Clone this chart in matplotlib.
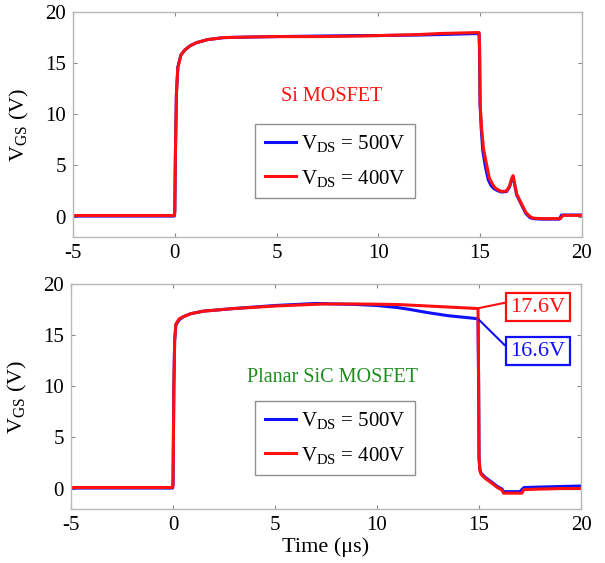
import matplotlib
matplotlib.use('Agg')
import matplotlib.pyplot as plt
from matplotlib.lines import Line2D

plt.rcParams['font.family'] = ['Liberation Serif', 'DejaVu Serif']
plt.rcParams['mathtext.fontset'] = 'custom'
plt.rcParams['mathtext.rm'] = 'Liberation Serif'
plt.rcParams['mathtext.it'] = 'Liberation Serif:italic'
plt.rcParams['axes.unicode_minus'] = False

# Si MOSFET (top)
si_t_400 = [-5, -3, -1, -0.02, 0.0, 0.03, 0.08, 0.15, 0.3, 0.5, 0.75, 1.06, 1.6, 2.4, 3.5, 5, 7, 9,
            10, 12, 13, 14, 14.95, 14.98, 15.0, 15.08, 15.17, 15.3, 15.45, 15.6, 15.74, 15.9, 16.06,
            16.3, 16.45, 16.55, 16.62, 16.8, 17.0, 17.25, 17.45, 17.6, 18.0, 18.5, 18.95, 19.07, 19.5, 20]
si_v_400 = [0.1, 0.1, 0.1, 0.1, 0.5, 6.0, 12.0, 14.6, 15.8, 16.3, 16.7, 17.0, 17.3, 17.5, 17.55, 17.6, 17.6, 17.65,
            17.7, 17.8, 17.9, 17.95, 18.0, 16.5, 11.0, 8.5, 6.6, 5.3, 3.8, 3.2, 2.8, 2.6, 2.45,
            2.5, 3.0, 3.7, 4.0, 2.2, 1.4, 0.4, 0.0, -0.15, -0.2, -0.2, -0.2, 0.12, 0.12, 0.12]

si_t_500 = [-5, -3, -1, -0.02, 0.0, 0.03, 0.08, 0.15, 0.3, 0.5, 0.75, 1.06, 1.6, 2.4, 3.5, 5, 7, 9,
            10, 12, 13, 14, 14.95, 14.97, 15.0, 15.06, 15.13, 15.25, 15.4, 15.55, 15.7, 15.9, 16.06,
            16.3, 16.45, 16.55, 16.62, 16.8, 17.0, 17.25, 17.45, 17.6, 18.0, 18.5, 18.9, 19.0, 19.5, 20]
si_v_500 = [0.05, 0.05, 0.05, 0.05, 0.5, 6.0, 12.0, 14.6, 15.8, 16.3, 16.7, 17.0, 17.3, 17.5, 17.55, 17.6, 17.65, 17.7,
            17.7, 17.75, 17.8, 17.85, 17.9, 16.5, 11.0, 8.5, 6.5, 5.0, 3.6, 3.0, 2.7, 2.5, 2.4,
            2.45, 2.9, 3.6, 3.9, 2.1, 1.3, 0.3, -0.1, -0.2, -0.25, -0.25, -0.25, 0.15, 0.15, 0.15]

# Planar SiC MOSFET (bottom)
sic_t_400 = [-5, -3, -1, -0.02, 0.0, 0.04, 0.08, 0.14, 0.3, 0.5, 0.87, 1.5, 2.96, 5, 7.35, 9, 11, 12,
             13, 14, 14.95, 14.98, 15.0, 15.04, 15.1, 15.3, 15.64, 15.9, 16.13, 16.2, 17.1, 17.2, 18.0, 19.0, 20]
sic_v_400 = [0.1, 0.1, 0.1, 0.1, 0.5, 10.0, 14.5, 16.1, 16.6, 16.8, 17.1, 17.35, 17.6, 17.85, 18.05, 18.05, 18.0, 17.9,
             17.8, 17.7, 17.6, 10.0, 3.0, 1.8, 1.4, 1.0, 0.5, 0.1, -0.15, -0.45, -0.45, -0.1, -0.05, 0.0, 0.0]

sic_t_500 = [-5, -3, -1, -0.02, 0.0, 0.04, 0.08, 0.14, 0.3, 0.5, 0.87, 1.5, 2.96, 5, 7.0, 9, 10, 11,
             11.5, 12.5, 13.5, 14.5, 14.95, 14.98, 15.0, 15.04, 15.1, 15.3, 15.64, 15.9, 16.13, 16.2, 17.0, 17.2, 18.0, 19.0, 20]
sic_v_500 = [0.05, 0.05, 0.05, 0.05, 0.5, 10.0, 14.5, 16.0, 16.5, 16.8, 17.1, 17.35, 17.6, 17.9, 18.1, 18.0, 17.9, 17.7,
             17.55, 17.2, 16.9, 16.7, 16.6, 10.0, 3.0, 1.9, 1.5, 1.1, 0.6, 0.2, -0.05, -0.3, -0.3, 0.1, 0.15, 0.2, 0.25]

xticks = [-5, 0, 5, 10, 15, 20]
yticks = [0, 5, 10, 15, 20]

BLUE = '#1010ff'
RED = '#ff1010'


def style_axes(ax):
    ax.set_xlim(-5, 20)
    ax.set_ylim(-2, 20)
    ax.set_xticks(xticks)
    ax.set_yticks(yticks)
    ax.tick_params(direction='in', length=3, width=0.8, color='#888888', labelsize=15,
                   top=True, right=True, pad=5)
    for s in ax.spines.values():
        s.set_color('#b8b8b8')
        s.set_linewidth(1.0)
    ax.set_ylabel(r'V$_{\mathregular{GS}}$ (V)', fontsize=16, labelpad=10)


def add_legend(ax, x0, y0):
    handles = [Line2D([], [], color=BLUE, lw=2.2), Line2D([], [], color=RED, lw=2.2)]
    labels = [r'V$_{\mathregular{DS}}$ = 500V', r'V$_{\mathregular{DS}}$ = 400V']
    leg = ax.legend(handles, labels, loc='lower left', bbox_to_anchor=(x0, y0), borderaxespad=0,
                    fontsize=15, handlelength=1.5, handletextpad=0.25, labelspacing=0.65,
                    fancybox=False, framealpha=1, edgecolor='#909090', borderpad=0.45)
    leg.get_frame().set_linewidth(1.0)


fig = plt.figure(figsize=(6.05, 5.63), dpi=100)
ax1 = fig.add_axes([0.1207, 0.579, 0.841, 0.3996])
ax2 = fig.add_axes([0.1174, 0.0959, 0.843, 0.3996])

ax1.plot(si_t_500, si_v_500, color=BLUE, lw=2.2)
ax1.plot(si_t_400, si_v_400, color=RED, lw=2.2)
style_axes(ax1)
ax1.text(7.7, 11.7, 'Si MOSFET', color=RED, fontsize=14.5, ha='center', va='center')
add_legend(ax1, 0.358, 0.173)

ax2.plot(sic_t_500, sic_v_500, color=BLUE, lw=2.2)
ax2.plot(sic_t_400, sic_v_400, color=RED, lw=2.2)
style_axes(ax2)
ax2.text(7.8, 10.9, 'Planar SiC MOSFET', color='#1e8c1e', fontsize=14.5, ha='center', va='center')
add_legend(ax2, 0.361, 0.151)
ax2.set_xlabel('Time (\u03bcs)', fontsize=16, labelpad=2)

ax2.annotate('17.6V', xy=(15, 17.65), xytext=(17.87, 17.75), color=RED, fontsize=16,
             ha='center', va='center',
             bbox=dict(boxstyle='square,pad=0.2', fc='white', ec=RED, lw=1.6),
             arrowprops=dict(arrowstyle='-', color=RED, lw=1.5, relpos=(0, 0.78), shrinkA=0, shrinkB=0))
ax2.annotate('16.6V', xy=(15, 16.5), xytext=(17.87, 13.45), color=BLUE, fontsize=16,
             ha='center', va='center',
             bbox=dict(boxstyle='square,pad=0.2', fc='white', ec=BLUE, lw=1.6),
             arrowprops=dict(arrowstyle='-', color=BLUE, lw=1.5, relpos=(0, 0.53), shrinkA=0, shrinkB=0))

plt.savefig('out.png', dpi=100)
